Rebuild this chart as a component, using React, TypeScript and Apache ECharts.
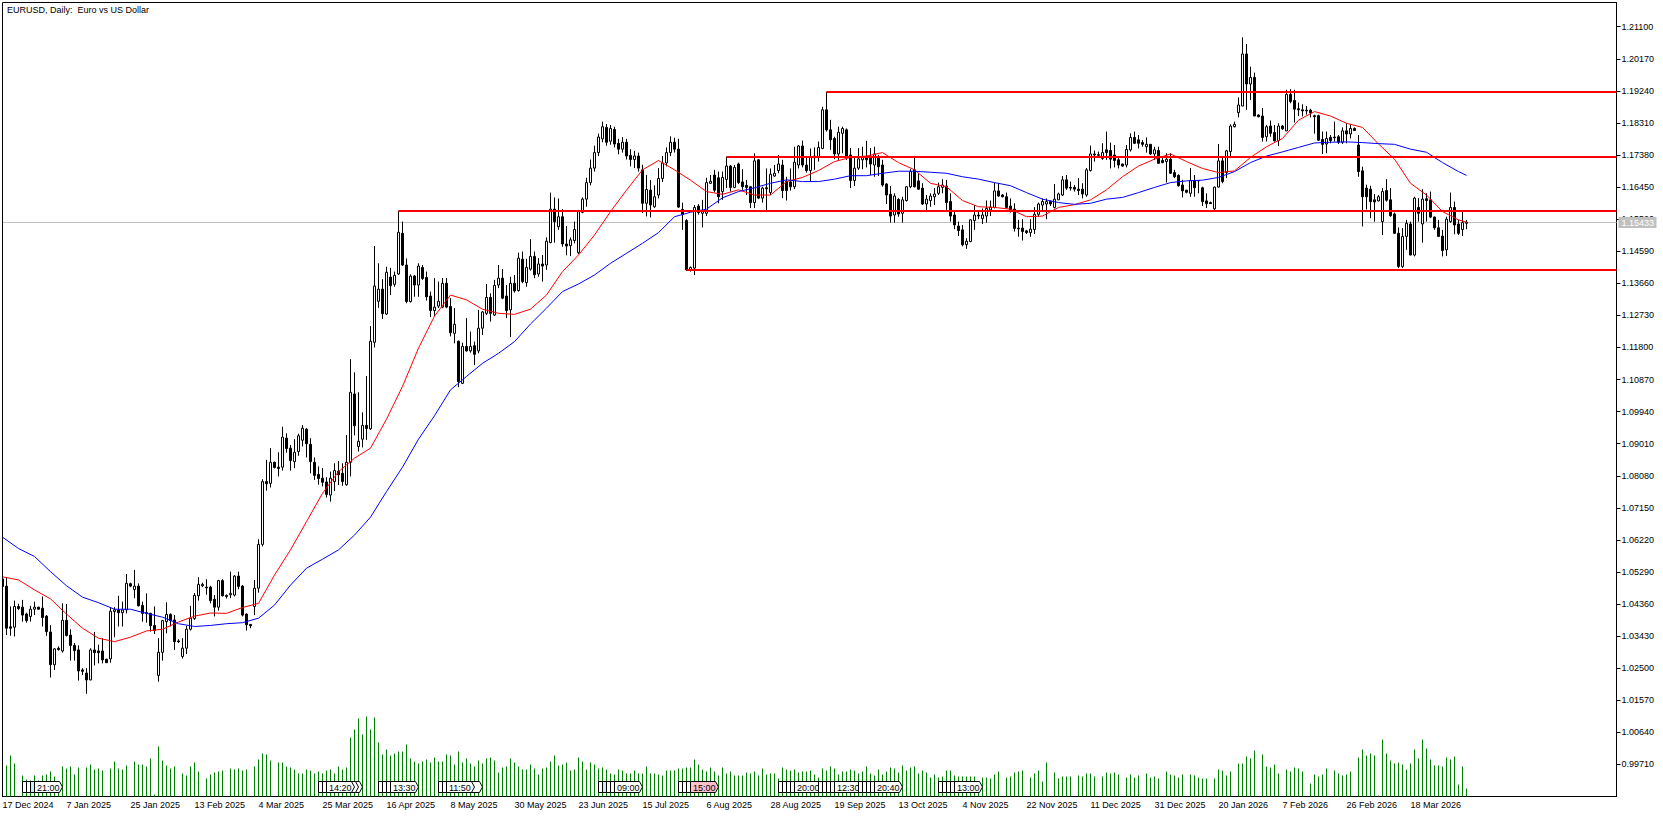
import React, { useEffect, useRef } from 'react';
import * as echarts from 'echarts';

const FONT = '"Liberation Sans", Arial, sans-serif';

const tickDates = [
  '17 Dec 2024', '7 Jan 2025', '25 Jan 2025', '13 Feb 2025', '4 Mar 2025', '25 Mar 2025', '16 Apr 2025', '8 May 2025',
  '30 May 2025', '23 Jun 2025', '15 Jul 2025', '6 Aug 2025', '28 Aug 2025', '19 Sep 2025', '13 Oct 2025', '4 Nov 2025',
  '22 Nov 2025', '11 Dec 2025', '31 Dec 2025', '20 Jan 2026', '7 Feb 2026', '26 Feb 2026', '18 Mar 2026',
];

const priceTicks = [
  1.211, 1.2017, 1.1924, 1.1831, 1.1738, 1.1645, 1.1552, 1.1459, 1.1366, 1.1273, 1.118, 1.1087,
  1.0994, 1.0901, 1.0808, 1.0715, 1.0622, 1.0529, 1.0436, 1.0343, 1.025, 1.0157, 1.0064, 0.9971,
];

// open, close, high, low per daily bar
const candles = [
  [1.0509,1.0487,1.0517,1.0485],[1.0488,1.0366,1.0514,1.0346],[1.0370,1.0366,1.0429,1.0344],[1.0369,1.0429,1.0446,1.0342],[1.0429,1.0423,1.0437,1.0419],
  [1.0427,1.0404,1.0448,1.0385],[1.0407,1.0388,1.0411,1.0382],[1.0400,1.0421,1.0431,1.0385],[1.0421,1.0427,1.0443,1.0404],[1.0427,1.0421,1.0428,1.0420],
  [1.0424,1.0397,1.0458,1.0371],[1.0401,1.0356,1.0404,1.0344],[1.0355,1.0260,1.0375,1.0223],[1.0260,1.0306,1.0308,1.0245],[1.0308,1.0304,1.0313,1.0301],
  [1.0300,1.0389,1.0438,1.0295],[1.0389,1.0345,1.0436,1.0342],[1.0346,1.0316,1.0363,1.0272],[1.0316,1.0301,1.0323,1.0272],[1.0303,1.0242,1.0316,1.0214],
  [1.0245,1.0241,1.0250,1.0230],[1.0236,1.0216,1.0250,1.0176],[1.0216,1.0303,1.0308,1.0215],[1.0303,1.0295,1.0355,1.0258],[1.0300,1.0295,1.0318,1.0264],
  [1.0300,1.0274,1.0337,1.0264],[1.0276,1.0266,1.0277,1.0265],[1.0277,1.0415,1.0427,1.0266],[1.0414,1.0419,1.0427,1.0340],[1.0419,1.0411,1.0460,1.0371],
  [1.0411,1.0419,1.0443,1.0371],[1.0419,1.0496,1.0523,1.0409],[1.0495,1.0488,1.0498,1.0485],[1.0478,1.0488,1.0535,1.0453],[1.0488,1.0431,1.0496,1.0429],
  [1.0432,1.0409,1.0443,1.0385],[1.0411,1.0409,1.0467,1.0382],[1.0409,1.0373,1.0411,1.0356],[1.0374,1.0359,1.0429,1.0349],[1.0229,1.0296,1.0337,1.0211],
  [1.0296,1.0388,1.0390,1.0272],[1.0385,1.0406,1.0441,1.0351],[1.0406,1.0388,1.0409,1.0371],[1.0390,1.0327,1.0404,1.0303],[1.0329,1.0327,1.0334,1.0323],
  [1.0284,1.0308,1.0337,1.0278],[1.0308,1.0363,1.0373,1.0291],[1.0363,1.0395,1.0431,1.0359],[1.0394,1.0461,1.0468,1.0390],[1.0460,1.0493,1.0514,1.0446],
  [1.0489,1.0493,1.0498,1.0485],[1.0485,1.0483,1.0508,1.0463],[1.0485,1.0446,1.0489,1.0438],[1.0450,1.0427,1.0462,1.0400],[1.0427,1.0504,1.0506,1.0417],
  [1.0504,1.0460,1.0508,1.0458],[1.0461,1.0458,1.0464,1.0452],[1.0463,1.0467,1.0530,1.0453],[1.0462,1.0517,1.0520,1.0458],[1.0517,1.0487,1.0530,1.0479],
  [1.0488,1.0404,1.0491,1.0400],[1.0407,1.0376,1.0409,1.0359],[1.0377,1.0373,1.0378,1.0366],[1.0429,1.0482,1.0506,1.0404],[1.0482,1.0609,1.0624,1.0469],
  [1.0609,1.0791,1.0798,1.0603],[1.0791,1.0785,1.0854,1.0765],[1.0786,1.0847,1.0888,1.0774],[1.0847,1.0832,1.0849,1.0829],[1.0833,1.0829,1.0876,1.0806],
  [1.0833,1.0920,1.0950,1.0823],[1.0917,1.0887,1.0931,1.0875],[1.0888,1.0852,1.0897,1.0823],[1.0849,1.0876,1.0914,1.0830],[1.0878,1.0924,1.0930,1.0866],
  [1.0911,1.0946,1.0955,1.0893],[1.0943,1.0901,1.0946,1.0861],[1.0899,1.0849,1.0917,1.0815],[1.0847,1.0809,1.0861,1.0796],[1.0812,1.0800,1.0835,1.0782],
  [1.0801,1.0789,1.0830,1.0777],[1.0790,1.0754,1.0804,1.0745],[1.0752,1.0801,1.0820,1.0733],[1.0791,1.0823,1.0844,1.0764],[1.0821,1.0811,1.0851,1.0781],
  [1.0815,1.0791,1.0844,1.0779],[1.0782,1.0847,1.0926,1.0779],[1.0847,1.1050,1.1146,1.0806],[1.1045,1.0953,1.1108,1.0925],[1.0893,1.0908,1.1050,1.0878],
  [1.0914,1.0954,1.0992,1.0890],[1.0954,1.0945,1.1097,1.0912],[1.0944,1.1198,1.1242,1.0941],[1.1195,1.1358,1.1474,1.1180],[1.1314,1.1349,1.1424,1.1295],
  [1.1349,1.1278,1.1378,1.1263],[1.1277,1.1398,1.1414,1.1274],[1.1384,1.1359,1.1411,1.1332],[1.1363,1.1389,1.1400,1.1356],[1.1393,1.1514,1.1576,1.1390],
  [1.1511,1.1419,1.1545,1.1416],[1.1419,1.1313,1.1438,1.1308],[1.1313,1.1387,1.1392,1.1310],[1.1387,1.1361,1.1390,1.1327],[1.1361,1.1416,1.1424,1.1327],
  [1.1412,1.1380,1.1419,1.1376],[1.1383,1.1327,1.1400,1.1316],[1.1329,1.1287,1.1342,1.1268],[1.1287,1.1297,1.1381,1.1271],[1.1300,1.1314,1.1371,1.1294],
  [1.1297,1.1366,1.1381,1.1294],[1.1366,1.1297,1.1381,1.1294],[1.1299,1.1223,1.1323,1.1212],[1.1221,1.1247,1.1294,1.1192],[1.1198,1.1081,1.1200,1.1065],
  [1.1076,1.1183,1.1194,1.1074],[1.1183,1.1170,1.1265,1.1168],[1.1170,1.1183,1.1226,1.1165],[1.1185,1.1160,1.1197,1.1129],[1.1170,1.1236,1.1289,1.1163],
  [1.1236,1.1283,1.1286,1.1216],[1.1279,1.1325,1.1364,1.1274],[1.1325,1.1279,1.1337,1.1255],[1.1274,1.1360,1.1376,1.1271],[1.1361,1.1381,1.1419,1.1352],
  [1.1381,1.1323,1.1407,1.1320],[1.1329,1.1287,1.1361,1.1265],[1.1289,1.1366,1.1385,1.1210],[1.1366,1.1344,1.1390,1.1339],[1.1345,1.1439,1.1455,1.1342],
  [1.1436,1.1371,1.1458,1.1366],[1.1368,1.1412,1.1437,1.1356],[1.1407,1.1444,1.1494,1.1403],[1.1444,1.1391,1.1458,1.1381],[1.1393,1.1422,1.1439,1.1385],
  [1.1422,1.1416,1.1448,1.1371],[1.1419,1.1488,1.1499,1.1405],[1.1484,1.1581,1.1629,1.1482],[1.1581,1.1545,1.1615,1.1484],[1.1530,1.1559,1.1612,1.1521],
  [1.1559,1.1480,1.1581,1.1472],[1.1480,1.1474,1.1532,1.1447],[1.1475,1.1492,1.1499,1.1445],[1.1490,1.1522,1.1545,1.1482],[1.1455,1.1574,1.1579,1.1451],
  [1.1572,1.1610,1.1615,1.1569],[1.1610,1.1658,1.1672,1.1588],[1.1658,1.1700,1.1725,1.1650],[1.1700,1.1745,1.1765,1.1690],[1.1745,1.1790,1.1800,1.1735],
  [1.1785,1.1820,1.1835,1.1775],[1.1818,1.1775,1.1828,1.1765],[1.1778,1.1815,1.1825,1.1768],[1.1812,1.1770,1.1820,1.1760],[1.1772,1.1755,1.1785,1.1740],
  [1.1755,1.1775,1.1790,1.1745],[1.1775,1.1735,1.1785,1.1725],[1.1737,1.1725,1.1755,1.1705],[1.1725,1.1735,1.1750,1.1700],[1.1735,1.1700,1.1745,1.1690],
  [1.1695,1.1598,1.1710,1.1570],[1.1598,1.1638,1.1680,1.1560],[1.1636,1.1593,1.1665,1.1557],[1.1588,1.1617,1.1650,1.1585],[1.1622,1.1670,1.1700,1.1612],
  [1.1670,1.1715,1.1735,1.1660],[1.1715,1.1745,1.1760,1.1705],[1.1745,1.1775,1.1792,1.1735],[1.1775,1.1755,1.1788,1.1745],[1.1755,1.1587,1.1785,1.1585],
  [1.1580,1.1565,1.1600,1.1521],[1.1548,1.1405,1.1552,1.1402],[1.1405,1.1412,1.1415,1.1400],[1.1410,1.1586,1.1593,1.1390],[1.1590,1.1571,1.1596,1.1565],
  [1.1569,1.1577,1.1608,1.1528],[1.1569,1.1658,1.1672,1.1561],[1.1656,1.1662,1.1680,1.1654],[1.1680,1.1636,1.1695,1.1630],[1.1672,1.1617,1.1690,1.1598],
  [1.1632,1.1673,1.1690,1.1608],[1.1667,1.1706,1.1733,1.1642],[1.1706,1.1644,1.1709,1.1632],[1.1644,1.1702,1.1709,1.1642],[1.1712,1.1658,1.1716,1.1654],
  [1.1660,1.1646,1.1697,1.1637],[1.1650,1.1644,1.1666,1.1622],[1.1646,1.1600,1.1648,1.1584],[1.1600,1.1721,1.1743,1.1584],[1.1724,1.1613,1.1726,1.1610],
  [1.1613,1.1642,1.1646,1.1600],[1.1643,1.1640,1.1699,1.1577],[1.1629,1.1682,1.1699,1.1622],[1.1677,1.1685,1.1709,1.1675],[1.1693,1.1712,1.1738,1.1685],
  [1.1709,1.1635,1.1724,1.1613],[1.1661,1.1635,1.1675,1.1606],[1.1660,1.1646,1.1699,1.1635],[1.1646,1.1717,1.1762,1.1639],[1.1709,1.1764,1.1767,1.1699],
  [1.1764,1.1709,1.1780,1.1702],[1.1709,1.1693,1.1733,1.1687],[1.1693,1.1731,1.1757,1.1661],[1.1735,1.1730,1.1760,1.1695],[1.1731,1.1760,1.1777,1.1719],
  [1.1757,1.1869,1.1878,1.1755],[1.1869,1.1811,1.1921,1.1806],[1.1811,1.1782,1.1840,1.1753],[1.1786,1.1741,1.1791,1.1726],[1.1741,1.1804,1.1820,1.1724],
  [1.1801,1.1815,1.1820,1.1743],[1.1811,1.1731,1.1815,1.1724],[1.1738,1.1664,1.1758,1.1642],[1.1664,1.1700,1.1731,1.1648],[1.1700,1.1727,1.1758,1.1695],
  [1.1724,1.1731,1.1762,1.1697],[1.1731,1.1724,1.1779,1.1702],[1.1729,1.1712,1.1758,1.1680],[1.1709,1.1741,1.1762,1.1675],[1.1729,1.1704,1.1738,1.1677],
  [1.1709,1.1651,1.1724,1.1646],[1.1654,1.1622,1.1656,1.1596],[1.1624,1.1561,1.1648,1.1542],[1.1564,1.1619,1.1627,1.1542],[1.1609,1.1567,1.1613,1.1559],
  [1.1569,1.1608,1.1617,1.1542],[1.1606,1.1646,1.1648,1.1603],[1.1646,1.1690,1.1697,1.1642],[1.1695,1.1646,1.1731,1.1644],[1.1663,1.1639,1.1685,1.1637],
  [1.1642,1.1596,1.1656,1.1593],[1.1596,1.1610,1.1622,1.1577],[1.1606,1.1619,1.1627,1.1588],[1.1617,1.1625,1.1642,1.1593],[1.1627,1.1646,1.1658,1.1622],
  [1.1644,1.1651,1.1668,1.1627],[1.1648,1.1600,1.1666,1.1579],[1.1603,1.1561,1.1627,1.1545],[1.1564,1.1535,1.1577,1.1523],[1.1532,1.1519,1.1545,1.1503],
  [1.1521,1.1478,1.1535,1.1473],[1.1478,1.1488,1.1497,1.1466],[1.1487,1.1550,1.1552,1.1485],[1.1548,1.1564,1.1593,1.1521],[1.1564,1.1561,1.1574,1.1552],
  [1.1554,1.1564,1.1583,1.1538],[1.1561,1.1583,1.1606,1.1542],[1.1579,1.1587,1.1606,1.1561],[1.1586,1.1634,1.1658,1.1583],[1.1634,1.1619,1.1656,1.1617],
  [1.1622,1.1617,1.1625,1.1615],[1.1617,1.1586,1.1629,1.1583],[1.1590,1.1577,1.1612,1.1571],[1.1581,1.1525,1.1598,1.1516],[1.1526,1.1524,1.1550,1.1501],
  [1.1526,1.1516,1.1552,1.1490],[1.1518,1.1513,1.1521,1.1509],[1.1513,1.1523,1.1552,1.1501],[1.1522,1.1566,1.1587,1.1509],[1.1566,1.1596,1.1600,1.1558],
  [1.1593,1.1603,1.1612,1.1574],[1.1596,1.1603,1.1612,1.1552],[1.1603,1.1596,1.1606,1.1590],[1.1586,1.1610,1.1654,1.1583],[1.1608,1.1625,1.1629,1.1608],
  [1.1622,1.1666,1.1677,1.1619],[1.1666,1.1642,1.1680,1.1637],[1.1644,1.1642,1.1661,1.1635],[1.1644,1.1639,1.1651,1.1632],[1.1639,1.1635,1.1671,1.1622],
  [1.1639,1.1625,1.1656,1.1612],[1.1622,1.1695,1.1700,1.1617],[1.1693,1.1741,1.1765,1.1690],[1.1741,1.1738,1.1751,1.1719],[1.1739,1.1737,1.1748,1.1731],
  [1.1728,1.1745,1.1772,1.1724],[1.1753,1.1745,1.1806,1.1724],[1.1751,1.1726,1.1774,1.1699],[1.1738,1.1722,1.1767,1.1702],[1.1724,1.1709,1.1729,1.1699],
  [1.1712,1.1706,1.1712,1.1704],[1.1709,1.1754,1.1767,1.1702],[1.1753,1.1789,1.1801,1.1748],[1.1789,1.1772,1.1806,1.1770],[1.1782,1.1772,1.1796,1.1757],
  [1.1774,1.1769,1.1781,1.1762],[1.1762,1.1769,1.1789,1.1745],[1.1769,1.1741,1.1770,1.1738],[1.1741,1.1753,1.1762,1.1724],[1.1751,1.1714,1.1762,1.1712],
  [1.1722,1.1716,1.1729,1.1714],[1.1719,1.1726,1.1743,1.1658],[1.1726,1.1685,1.1743,1.1683],[1.1687,1.1675,1.1695,1.1671],[1.1679,1.1649,1.1682,1.1646],
  [1.1651,1.1634,1.1666,1.1615],[1.1636,1.1630,1.1637,1.1627],[1.1627,1.1664,1.1700,1.1617],[1.1664,1.1643,1.1680,1.1617],[1.1664,1.1663,1.1665,1.1627],
  [1.1643,1.1603,1.1646,1.1590],[1.1605,1.1597,1.1627,1.1584],[1.1600,1.1597,1.1603,1.1596],[1.1582,1.1645,1.1646,1.1579],[1.1645,1.1721,1.1770,1.1644],
  [1.1721,1.1661,1.1734,1.1656],[1.1687,1.1750,1.1753,1.1671],[1.1748,1.1822,1.1827,1.1729],[1.1820,1.1827,1.1835,1.1818],[1.1861,1.1883,1.1905,1.1847],
  [1.1880,1.2031,1.2079,1.1880],[1.2031,1.1944,1.2060,1.1869],[1.1944,1.1963,1.1994,1.1897],[1.1963,1.1851,1.1977,1.1851],[1.1854,1.1849,1.1856,1.1847],
  [1.1851,1.1789,1.1874,1.1777],[1.1791,1.1820,1.1825,1.1777],[1.1822,1.1801,1.1838,1.1791],[1.1803,1.1779,1.1825,1.1777],[1.1780,1.1822,1.1830,1.1764],
  [1.1822,1.1814,1.1825,1.1811],[1.1808,1.1914,1.1927,1.1807],[1.1914,1.1893,1.1929,1.1888],[1.1896,1.1871,1.1927,1.1832],[1.1872,1.1869,1.1890,1.1851],
  [1.1869,1.1866,1.1885,1.1850],[1.1868,1.1866,1.1880,1.1855],[1.1868,1.1860,1.1872,1.1847],[1.1852,1.1849,1.1855,1.1800],[1.1852,1.1781,1.1855,1.1779],
  [1.1783,1.1769,1.1806,1.1741],[1.1770,1.1786,1.1806,1.1743],[1.1789,1.1780,1.1796,1.1772],[1.1790,1.1788,1.1835,1.1777],[1.1791,1.1775,1.1796,1.1770],
  [1.1775,1.1808,1.1818,1.1770],[1.1808,1.1799,1.1830,1.1772],[1.1799,1.1815,1.1828,1.1786],[1.1815,1.1809,1.1818,1.1808],[1.1767,1.1690,1.1796,1.1675],
  [1.1692,1.1617,1.1704,1.1531],[1.1642,1.1617,1.1652,1.1580],[1.1639,1.1603,1.1649,1.1555],[1.1608,1.1602,1.1625,1.1545],[1.1605,1.1617,1.1622,1.1603],
  [1.1545,1.1632,1.1642,1.1506],[1.1635,1.1607,1.1668,1.1603],[1.1608,1.1562,1.1642,1.1559],[1.1567,1.1511,1.1571,1.1509],[1.1511,1.1415,1.1528,1.1410],
  [1.1415,1.1502,1.1526,1.1410],[1.1502,1.1540,1.1550,1.1463],[1.1538,1.1448,1.1545,1.1447],[1.1448,1.1613,1.1617,1.1444],[1.1586,1.1569,1.1613,1.1545],
  [1.1538,1.1610,1.1639,1.1484],[1.1611,1.1606,1.1627,1.1545],[1.1608,1.1558,1.1632,1.1555],[1.1558,1.1527,1.1560,1.1521],[1.1527,1.1502,1.1550,1.1500],
  [1.1503,1.1461,1.1521,1.1444],[1.1463,1.1552,1.1559,1.1445],[1.1545,1.1586,1.1629,1.1542],[1.1586,1.1535,1.1603,1.1508],[1.1538,1.1511,1.1550,1.1506],
  [1.1522,1.1542,1.1574,1.1503],[1.1540,1.15433,1.1550,1.1523],
];

const volumes = [
  0,31,41,33,0,21,17,16,21,16, 21,22,25,20,6,30,28,30,22,29, 0,29,32,27,28,26,0,28,35,28, 27,31,0,35,32,32,30,38,2,50,
  36,31,28,30,0,23,21,30,34,25, 0,18,22,24,25,26,0,28,27,28, 26,27,0,30,37,43,42,36,0,34, 34,30,29,27,23,
  23,27,26,23,25, 23,26,27,23,30, 27,29,59,67,78, 62,80,67,79,54, 42,47,41,43,45, 45,52,38,35,33, 35,37,34,39,35,
  35,42,41,32,45, 34,38,33,30,36, 33,38,39,36,24, 29,30,38,34,30, 27,27,32,28,22, 28,29,35,41,31, 32,34,26,27,39,
  35,27,34,32,28, 29,27,23,22,27, 26,23,23,26,23, 23,30,23,23,22, 21,26,26,26,28, 28,29,29,37,32, 27,25,29,25,21,
  29,23,25,21,21, 21,24,23,25,21, 28,22,23,23,18, 29,27,26,27,24,
  25,25,26,22,19,28,26,30,28,22, 25,25,27,26,23,25,30,23,21,27, 22,25,29,28,24,31,26,29,30,23, 26,24,19,22,19,20,26,26,21,20,
  20,20,20,20,13,19,19,18,22,25, 0,19,20,24,25,26,0,19,23,26, 15,34,0,24,18,20,20,20,0,21, 20,23,23,20,0,20,24,23,24,22,
  0,19,22,19,21,
  0,23,19,20,18,0,25,22,21,19,22,0,22,21,19,18,18,0,18,27,26,21,25,0,33,33,40,38,46,0,42,30,29,32,23,0,27,25,29,28,25,0,
  13,22,20,22,28,0,26,23,21,22,25,0,39,47,41,43,41,1,57,43,36,33,34,32,27,33,47,38,57,48,37,31,31,30,39,37,40,12,30,8,
];

// moving averages read every fourth bar, the last reading is on the last bar
const maFast = [
  1.0515,1.0506,1.0477,1.0451,1.0407,1.0366,1.0337,1.0327,1.0340,1.0358,
  1.0363,1.0384,1.0401,1.0410,1.0409,1.0426,1.0438,1.0520,1.0593,1.0675,
  1.0757,1.0820,1.0859,1.0888,1.0972,1.1067,1.1178,1.1271,1.1332,1.1318,
  1.1291,1.1279,1.1276,1.1291,1.1332,1.1400,1.1448,1.1506,1.1574,1.1636,
  1.1695,1.1722,1.1695,1.1665,1.1632,1.1624,1.1637,1.1622,1.1622,1.1661,
  1.1673,1.1693,1.1719,1.1731,1.1735,1.1745,1.1716,1.1695,1.1656,1.1646,
  1.1606,1.1588,1.1586,1.1581,1.1559,1.1561,1.1586,1.1594,1.1608,1.1637,
  1.1675,1.1706,1.1726,1.1741,1.1719,1.1699,1.1687,1.1692,1.1731,1.1762,
  1.1786,1.1839,1.1864,1.1851,1.1830,1.1818,1.1770,1.1726,1.1656,1.1622,
  1.1574,1.1550,1.1543,
];

const maSlow = [
  1.0630,1.0597,1.0574,1.0530,1.0489,1.0456,1.0440,1.0421,1.0421,1.0409,
  1.0398,1.0379,1.0371,1.0374,1.0379,1.0382,1.0395,1.0433,1.0491,1.0540,
  1.0566,1.0593,1.0636,1.0688,1.0762,1.0833,1.0914,1.0982,1.1057,1.1096,
  1.1134,1.1163,1.1197,1.1248,1.1294,1.1342,1.1364,1.1390,1.1424,1.1453,
  1.1482,1.1513,1.1559,1.1572,1.1581,1.1614,1.1632,1.1643,1.1656,1.1666,
  1.1661,1.1661,1.1668,1.1678,1.1678,1.1685,1.1691,1.1691,1.1688,1.1685,
  1.1675,1.1668,1.1658,1.1649,1.1629,1.1610,1.1600,1.1595,1.1598,1.1610,
  1.1615,1.1629,1.1644,1.1658,1.1663,1.1665,1.1673,1.1690,1.1716,1.1735,
  1.1747,1.1760,1.1773,1.1775,1.1776,1.1774,1.1771,1.1769,1.1755,1.1746,
  1.1716,1.1690,1.1679,
];

// horizontal levels: first bar, price
const levels = [
  [206, 1.1922],
  [181, 1.1733],
  [99, 1.1576],
  [171, 1.1405],
];
const lastPrice = 1.15433;

// bar the tag starts on, its text, its fill
const eventTags: [number, string, string][] = [
  [5, '', '#fff'], [6, '', '#fff'], [7, '', '#c8f0f8'], [8, '21:00', '#fff'],
  [79, '', '#fff'], [80, '', '#fff'], [83, '', '#fff'], [82, '', '#fff'], [81, '14:20', '#fff'],
  [94, '', '#fff'], [95, '', '#fff'], [96, '', '#fff'], [97, '13:30', '#fff'],
  [109, '', '#fff'], [110, '', '#fff'], [113, '', '#fff'], [111, '11:50', '#fff'],
  [149, '', '#fff'], [150, '', '#c8f0f8'], [151, '', '#fff'], [152, '', '#fff'], [153, '09:00', '#fff'],
  [169, '', '#fff'], [170, '', '#fff'], [171, '', '#fff'], [172, '15:00', '#ffc0cb'],
  [194, '', '#fff'], [195, '', '#fff'], [196, '', '#fff'], [197, '', '#fff'], [198, '20:00', '#fff'],
  [204, '', '#fff'], [205, '', '#fff'], [206, '', '#fff'], [207, '', '#fff'], [208, '12:30', '#fff'],
  [214, '', '#fff'], [215, '', '#fff'], [216, '', '#fff'], [217, '', '#fff'], [218, '20:40', '#fff'],
  [234, '', '#fff'], [235, '', '#fff'], [236, '', '#fff'], [237, '', '#fff'], [238, '13:00', '#fff'],
];

const SLOTS = 404;
const categories = Array.from({ length: SLOTS }, (_, i) => (i % 16 === 0 && tickDates[i / 16]) || '');
const sampled = (values: number[]) => values.map((v, k) => [Math.min(k * 4, candles.length - 1), v]);

const App: React.FC = () => {
  const chartRef = useRef<HTMLDivElement>(null);

  useEffect(() => {
    if (!chartRef.current) return;
    const chart = echarts.init(chartRef.current, undefined, { renderer: 'svg' });

    const option: any = {
      animation: false,
      backgroundColor: '#fff',
      title: {
        text: 'EURUSD, Daily:  Euro vs US Dollar',
        left: 2,
        top: 0,
        textStyle: { fontFamily: FONT, fontSize: 9, fontWeight: 'normal', color: '#000' },
      },
      grid: { left: 0.5, top: 2.5, width: 4 * SLOTS, height: 794, outerBoundsMode: 'none' },
      xAxis: {
        type: 'category',
        data: categories,
        boundaryGap: true,
        axisLine: { lineStyle: { color: '#000', width: 1 } },
        axisTick: {
          length: 4,
          alignWithLabel: true,
          interval: (i: number) => categories[i] !== '',
          lineStyle: { color: '#000' },
        },
        axisLabel: {
          interval: (i: number) => categories[i] !== '',
          align: 'left',
          margin: 4,
          color: '#000',
          fontFamily: FONT,
          fontSize: 9,
        },
        splitLine: { show: false },
      },
      yAxis: [
        {
          type: 'value',
          position: 'right',
          min: 0.9878,
          max: 1.21802,
          axisLine: { show: true, lineStyle: { color: '#000', width: 1 } },
          axisTick: { show: true, length: 4, customValues: priceTicks, lineStyle: { color: '#000' } },
          axisLabel: {
            customValues: priceTicks,
            formatter: (v: number) => v.toFixed(5),
            margin: 5,
            color: '#000',
            fontFamily: FONT,
            fontSize: 9,
          },
          splitLine: { show: false },
        },
        { type: 'value', min: 0, max: 794, show: false, splitLine: { show: false } },
      ],
      series: [
        {
          type: 'custom',
          name: 'last',
          z: 1,
          data: [[0, lastPrice]],
          renderItem: (params: any, api: any) => {
            const y = Math.round(api.coord([0, api.value(1)])[1]) + 0.5;
            const cs = params.coordSys;
            return {
              type: 'line',
              shape: { x1: 3, y1: y, x2: cs.x + cs.width, y2: y },
              style: { stroke: '#c0c0c0', lineWidth: 1 },
            };
          },
        },
        {
          type: 'bar',
          yAxisIndex: 1,
          z: 2,
          barWidth: 1,
          data: volumes,
          itemStyle: { color: '#008000' },
          silent: true,
        },
        {
          type: 'candlestick',
          z: 3,
          barWidth: 2,
          data: candles.map(([o, c, h, l]) => [o, c, l, h]),
          itemStyle: { color: '#fff', color0: '#000', borderColor: '#000', borderColor0: '#000', borderWidth: 1 },
        },
        {
          type: 'line',
          z: 4,
          data: sampled(maFast),
          showSymbol: false,
          lineStyle: { color: '#ff0000', width: 1 },
        },
        {
          type: 'line',
          z: 4,
          data: sampled(maSlow),
          showSymbol: false,
          lineStyle: { color: '#0000ff', width: 1 },
        },
        {
          type: 'custom',
          name: 'levels',
          z: 5,
          data: levels,
          renderItem: (params: any, api: any) => {
            const [x, y] = api.coord([api.value(0), api.value(1)]);
            const cs = params.coordSys;
            return {
              type: 'line',
              shape: { x1: x, y1: Math.round(y), x2: cs.x + cs.width, y2: Math.round(y) },
              style: { stroke: '#ff0000', lineWidth: 2 },
            };
          },
        },
        {
          type: 'custom',
          name: 'tags',
          z: 6,
          data: eventTags.map((t) => [t[0], 0]),
          renderItem: (params: any, api: any) => {
            const [bar, label, fill] = eventTags[params.dataIndex];
            const x = api.coord([bar, 0])[0];
            const cs = params.coordSys;
            const y1 = cs.y + cs.height - 4;
            const y0 = y1 - 11;
            return {
              type: 'group',
              children: [
                {
                  type: 'polygon',
                  shape: { points: [[x, y0], [x + 25, y0], [x + 28, y0 + 5.5], [x + 25, y1], [x, y1]] },
                  style: { fill, stroke: '#000', lineWidth: 1 },
                },
                {
                  type: 'text',
                  style: {
                    text: label,
                    x: x + 2.5,
                    y: y0 + 6,
                    fill: '#000',
                    font: `9px ${FONT}`,
                    verticalAlign: 'middle',
                  },
                },
              ],
            };
          },
        },
        {
          type: 'custom',
          name: 'last tag',
          z: 20,
          data: [[0, lastPrice]],
          renderItem: (params: any, api: any) => {
            const y = Math.round(api.coord([0, api.value(1)])[1]) + 0.5;
            const right = params.coordSys.x + params.coordSys.width;
            return {
              type: 'group',
              children: [
                { type: 'rect', z2: 100, shape: { x: right + 2, y: y - 5.5, width: 38, height: 11 }, style: { fill: '#c0c0c0' } },
                {
                  type: 'text',
                  z2: 101,
                  style: {
                    text: lastPrice.toFixed(5),
                    x: right + 5,
                    y,
                    fill: '#fff',
                    font: `9px ${FONT}`,
                    verticalAlign: 'middle',
                  },
                },
              ],
            };
          },
        },
      ],
      graphic: [
        { type: 'rect', z: 50, shape: { x: 0, y: 0, width: 2, height: 817 }, style: { fill: '#fff' } },
        { type: 'line', z: 51, shape: { x1: 2.5, y1: 2.5, x2: 2.5, y2: 796.5 }, style: { stroke: '#000', lineWidth: 1 } },
        { type: 'line', z: 51, shape: { x1: 2.5, y1: 2.5, x2: 1616.5, y2: 2.5 }, style: { stroke: '#000', lineWidth: 1 } },
      ],
    };

    chart.setOption(option);
    return () => chart.dispose();
  }, []);

  return <div ref={chartRef} style={{ position: 'fixed', left: 0, top: 0, width: 1663, height: 817 }} />;
};

export default App;
